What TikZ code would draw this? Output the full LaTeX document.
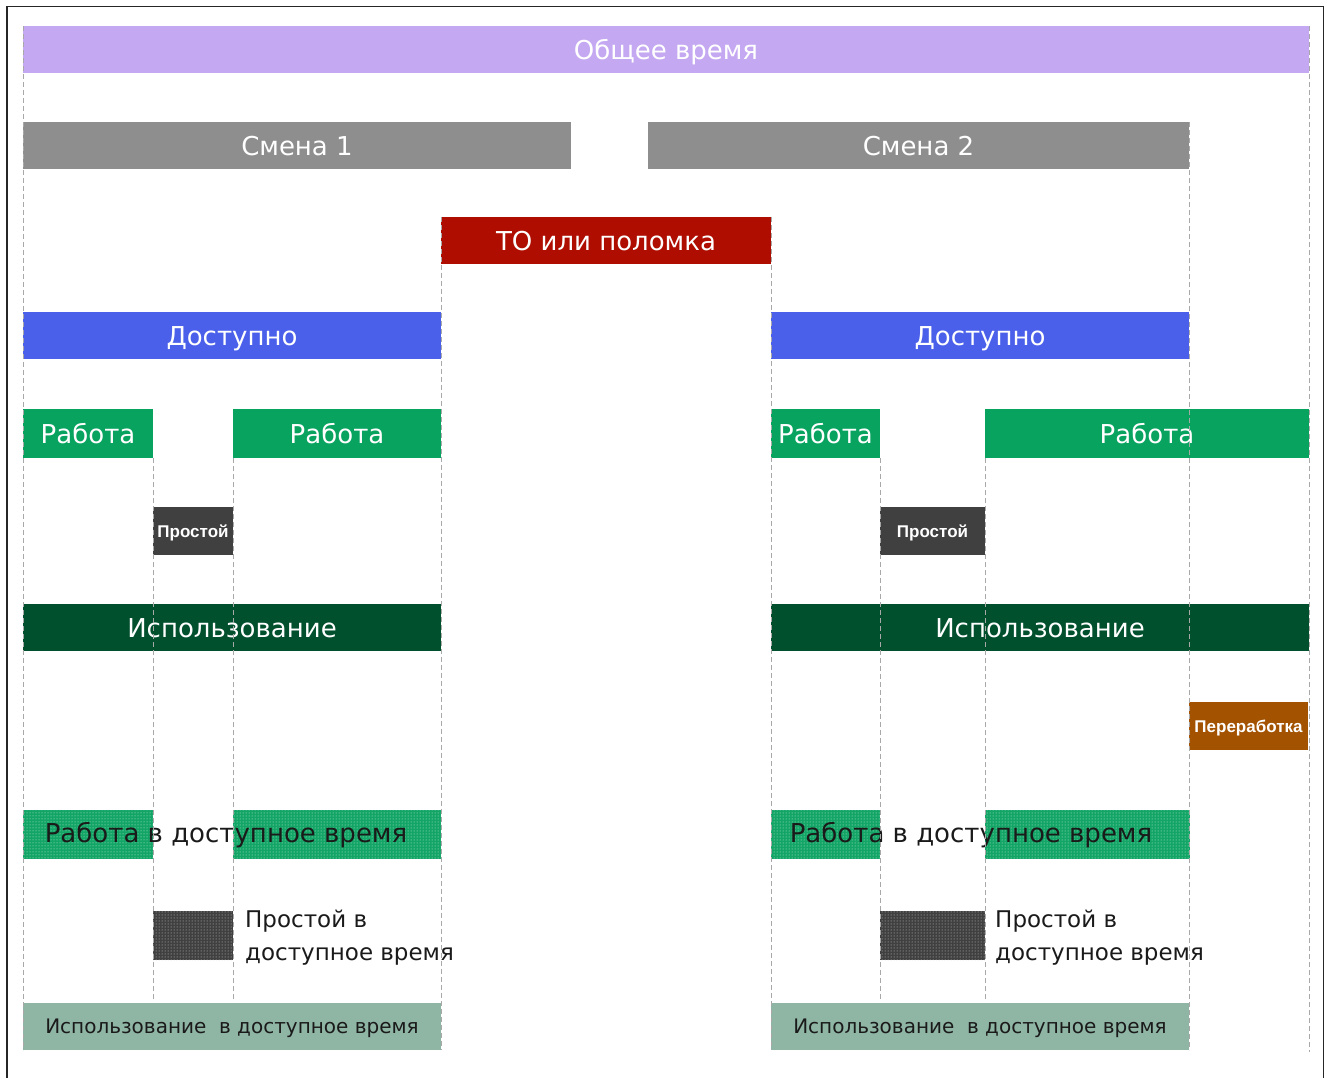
\documentclass[tikz,border=0pt]{standalone}
\usepackage{fontspec}
\setmainfont{DejaVu Sans}
\newfontfamily\smallsans{Liberation Sans}
\usetikzlibrary{fit,patterns}
\definecolor{cPurple}{HTML}{C4A8F2}
\definecolor{cGray}{HTML}{8E8E8E}
\definecolor{cRed}{HTML}{AE0D00}
\definecolor{cBlue}{HTML}{4A5FEA}
\definecolor{cGreen}{HTML}{07A35F}
\definecolor{cDark}{HTML}{404040}
\definecolor{cDGreen}{HTML}{004F2D}
\definecolor{cBrown}{HTML}{A35200}
\definecolor{cPatG}{HTML}{12A565}
\definecolor{cSage}{HTML}{8FB5A5}
\definecolor{cGuide}{HTML}{A8A8A8}
\definecolor{cInk}{HTML}{1A1A1A}
\tikzset{
  x=1pt, y=-1pt,
  barbox/.style={inner sep=0pt, text=white, font=\fontsize{26}{31}\selectfont,
    text height=19pt, text depth=0pt},
  smallbox/.style={inner sep=0pt, text=white, font=\smallsans\bfseries\fontsize{17}{20}\selectfont,
    text height=12.2pt, text depth=0pt},
  patgreen/.style={inner sep=0pt, fill=cPatG, postaction={pattern=dots, pattern color=white!80!cPatG}},
  patdark/.style={inner sep=0pt, fill=cDark, postaction={pattern=dots, pattern color=white!75!cDark}},
  sagebox/.style={inner sep=0pt, fill=cSage, text=cInk, font=\fontsize{20}{24}\selectfont,
    text height=14.6pt, text depth=0pt},
  blacktext/.style={inner sep=0pt, text=cInk, font=\fontsize{26}{31}\selectfont,
    text height=19pt, text depth=0pt},
  guide/.style={draw=cGuide, line width=0.8pt, dash pattern=on 5pt off 3pt},
}
\begin{document}
\begin{tikzpicture}
\useasboundingbox (0,0) rectangle (1326,1077);
% outer frame
\draw[line width=1.6pt, black!85] (7,1080) -- (7,6.5) -- (1323.5,6.5) -- (1323.5,1080);

% bars
\node[barbox, fill=cPurple, minimum width=1286pt, minimum height=47pt] (total) at (666,49.5) {Общее время};
\node[barbox, fill=cGray, minimum width=548pt, minimum height=47pt] (s1) at (297,145.5) {Смена 1};
\node[barbox, fill=cGray, minimum width=541pt, minimum height=47pt] (s2) at (918.5,145.5) {Смена 2};
\node[barbox, fill=cRed, minimum width=330pt, minimum height=47pt] (to) at (606,240.5) {ТО или поломка};
\node[barbox, fill=cBlue, minimum width=418pt, minimum height=47pt] (av1) at (232,335.5) {Доступно};
\node[barbox, fill=cBlue, minimum width=418pt, minimum height=47pt] (av2) at (980,335.5) {Доступно};
\node[barbox, fill=cGreen, minimum width=130pt, minimum height=49pt] (w1) at (88,433.5) {Работа};
\node[barbox, fill=cGreen, minimum width=208pt, minimum height=49pt] (w2) at (337,433.5) {Работа};
\node[barbox, fill=cGreen, minimum width=109pt, minimum height=49pt] (w3) at (825.5,433.5) {Работа};
\node[barbox, fill=cGreen, minimum width=324pt, minimum height=49pt] (w4) at (1147,433.5) {Работа};
\node[smallbox, fill=cDark, minimum width=80pt, minimum height=48pt] (d1) at (193,531) {Простой};
\node[smallbox, fill=cDark, minimum width=105pt, minimum height=48pt] (d2) at (932.5,531) {Простой};
\node[barbox, fill=cDGreen, minimum width=418pt, minimum height=47pt] (u1) at (232,627.5) {Использование};
\node[barbox, fill=cDGreen, minimum width=538pt, minimum height=47pt] (u2) at (1040,627.5) {Использование};
\node[smallbox, fill=cBrown, minimum width=119pt, minimum height=48pt] (ot) at (1248.5,726) {Переработка};

% work in available time
\node[patgreen, fit={(23,810)(153,859)}] (wa1) {};
\node[patgreen, fit={(233,810)(441,859)}] (wa2) {};
\node[patgreen, fit={(771,810)(880,859)}] (wa3) {};
\node[patgreen, fit={(985,810)(1190,859)}] (wa4) {};
\node[blacktext] (wat1) at (226,833) {Работа в доступное время};
\node[blacktext] (wat2) at (971,833) {Работа в доступное время};

% downtime in available time
\node[patdark, fit={(153,911)(233,960)}] (da1) {};
\node[patdark, fit={(880,911)(985,960)}] (da2) {};
\node[inner sep=0pt, text=cInk, anchor=base west, align=left, font=\fontsize{23}{33}\selectfont] (dat1) at (245,960) {Простой в\\доступное время};
\node[inner sep=0pt, text=cInk, anchor=base west, align=left, font=\fontsize{23}{33}\selectfont] (dat2) at (995,960) {Простой в\\доступное время};

% utilisation in available time
\node[sagebox, minimum width=418pt, minimum height=47pt] (ua1) at (232,1026.5) {Использование\ \ в доступное время};
\node[sagebox, minimum width=418pt, minimum height=47pt] (ua2) at (980,1026.5) {Использование\ \ в доступное время};

% guides
\draw[guide] (23,26) -- (23,1050);
\draw[guide] (1309,26) -- (1309,1052);
\draw[guide] (1189,122) -- (1189,1050);
\draw[guide] (441,217) -- (441,1050);
\draw[guide] (771,217) -- (771,1050);
\draw[guide] (153,458) -- (153,1000);
\draw[guide] (233,458) -- (233,1000);
\draw[guide] (880,458) -- (880,1000);
\draw[guide] (985,458) -- (985,1000);
\end{tikzpicture}
\end{document}
